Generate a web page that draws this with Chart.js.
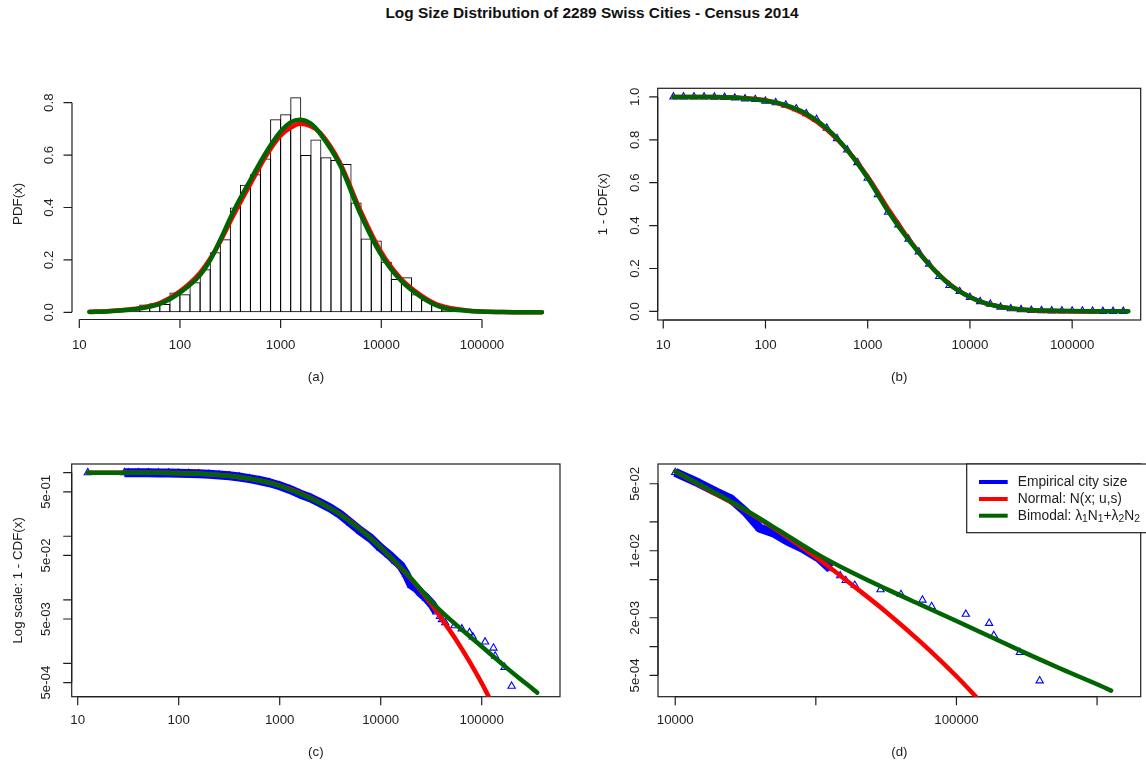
<!DOCTYPE html>
<html>
<head>
<meta charset="utf-8">
<title>Log Size Distribution of 2289 Swiss Cities - Census 2014</title>
<script src="https://cdn.jsdelivr.net/npm/chart.js@4.4.1/dist/chart.umd.min.js"></script>
<style>
  body { margin: 0; background: #fff; }
  #page { position: relative; width: 1146px; height: 766px; overflow: hidden; }
  #page canvas { position: absolute; left: 0; top: 0; }
  #title { position: absolute; left: 292px; top: 4px; width: 600px; text-align: center;
           font: bold 15.4px "Liberation Sans", Arial, sans-serif; color: #111; line-height: 18px; }
</style>
</head>
<body>
<div id="page">
  <div id="title">Log Size Distribution of 2289 Swiss Cities - Census 2014</div>
  <canvas id="pa" width="1146" height="766"></canvas>
  <canvas id="pb" width="1146" height="766"></canvas>
  <canvas id="pc" width="1146" height="766"></canvas>
  <canvas id="pd" width="1146" height="766"></canvas>
</div>
<script>
// (a) histogram of log10(size), bins 0.1 decade wide (bin centres, density)
const histBinCenters = [14.1, 17.8, 22.4, 28.2, 35.5, 44.7, 56.2, 70.8, 89.1, 112, 141, 178, 224, 282, 355,
  447, 562, 708, 891, 1122, 1413, 1778, 2239, 2818, 3548, 4467, 5623, 7079, 8913, 11220, 14125, 17783,
  22387, 28184, 35481, 44668, 56234, 70795, 89125, 112202, 141254, 177828, 223872, 281838, 354813];
const histDensity = [0.004, 0, 0, 0.009, 0.013, 0.030, 0.035, 0.032, 0.076, 0.069, 0.115, 0.164, 0.229, 0.279, 0.400,
  0.487, 0.527, 0.587, 0.737, 0.756, 0.821, 0.600, 0.660, 0.592, 0.581, 0.566, 0.419, 0.282, 0.274, 0.193, 0.127, 0.134,
  0.069, 0.047, 0.028, 0.011, 0.004, 0.004, 0.002, 0.002, 0.004, 0.002, 0, 0, 0.002];

// (a) fitted densities
const pdfPop = [12.6, 20, 31.6, 39.8, 63.1, 100, 158, 200, 251, 339, 501, 724, 1000, 1259, 1549, 1995, 2455,
  3890, 6166, 9772, 15488, 24547, 38019, 70795, 158489, 393550];
const pdfNormal = [0.002, 0.005, 0.011, 0.016, 0.035, 0.08, 0.15, 0.205, 0.27, 0.37, 0.49, 0.6, 0.675, 0.705, 0.72,
  0.71, 0.686, 0.57, 0.39, 0.235, 0.13, 0.066, 0.026, 0.007, 0.001, 0];
const pdfBimodal = [0.001, 0.004, 0.01, 0.015, 0.032, 0.075, 0.142, 0.2, 0.276, 0.384, 0.505, 0.613, 0.69, 0.725, 0.735,
  0.72, 0.683, 0.562, 0.378, 0.225, 0.123, 0.06, 0.022, 0.006, 0.001, 0];

// (b)(c)(d) fitted 1 - CDF
const survPop = [12.6, 31.6, 63.1, 100, 158, 251, 398, 631, 1000, 1585, 2512, 3981, 6310, 10000, 13335, 17783,
  23714, 31623, 42170, 56234, 74989, 100000, 133352, 177828, 237137, 316228, 354813];
const survNormal = [1.0, 0.999, 0.994, 0.984, 0.958, 0.915, 0.848, 0.752, 0.627, 0.478, 0.338, 0.220, 0.128, 0.067,
  0.042, 0.0263, 0.0155, 0.0086, 0.0045, 0.0023, 0.0011, 0.00049, 0.00020, 0.00008];
const survBimodal = [1.0, 0.999, 0.993, 0.982, 0.962, 0.922, 0.853, 0.752, 0.622, 0.467, 0.333, 0.219, 0.126, 0.067,
  0.0427, 0.0266, 0.0159, 0.0094, 0.0060, 0.0040, 0.00272, 0.00185, 0.00125, 0.000845, 0.00058, 0.000404, 0.000347];

// (b) empirical 1 - CDF on a 0.1 decade grid
const gridPop = [12.6, 15.8, 20, 25.1, 31.6, 39.8, 50.1, 63.1, 79.4, 100, 126, 158, 200, 251, 316, 398, 501, 631,
  794, 1000, 1259, 1585, 1995, 2512, 3162, 3981, 5012, 6310, 7943, 10000, 12589, 15849, 19953, 25119, 31623,
  39811, 50119, 63096, 79433, 100000, 125893, 158489, 199526, 251189, 316228];
const gridSurv = [1, 1, 1, 1, 0.999, 0.998, 0.995, 0.991, 0.988, 0.980, 0.973, 0.962, 0.945, 0.922, 0.895, 0.855,
  0.806, 0.753, 0.694, 0.621, 0.545, 0.463, 0.403, 0.337, 0.278, 0.220, 0.163, 0.121, 0.093, 0.066, 0.046, 0.034,
  0.020, 0.013, 0.0087, 0.0052, 0.0039, 0.0030, 0.0024, 0.0022, 0.0022, 0.0013, 0.0004, 0.0004, 0.0004];

// (c)(d) empirical 1 - CDF of the cities (dense band, then the largest cities)
const cityPop = [12.6, 29, 31.6, 39.8, 50.1, 63.1, 79.4, 100, 126, 158, 200, 251, 316, 398, 501, 631, 794, 1000,
  1259, 1585, 1995, 2512, 3162, 3981, 5012, 6310, 7943, 10000, 12100, 14000, 15800, 17800, 20000, 22500, 25100,
  28200, 32200, 35600, 38600, 40400, 43500, 53700, 63500, 75700, 81600, 108000, 130700, 135800, 168100, 197700];
const citySurv = [1.0, 1.0, 0.999, 0.998, 0.995, 0.991, 0.988, 0.980, 0.973, 0.962, 0.945, 0.922, 0.895, 0.855,
  0.806, 0.753, 0.694, 0.621, 0.545, 0.463, 0.403, 0.337, 0.278, 0.220, 0.163, 0.121, 0.093, 0.0656, 0.051, 0.041,
  0.0346, 0.0254, 0.0172, 0.0152, 0.0126, 0.0107, 0.0085, 0.0065, 0.0055, 0.0049, 0.00437, 0.00393, 0.0035,
  0.00306, 0.00262, 0.00218, 0.00175, 0.00131, 0.00087, 0.00044];
const bandFirst = 1, bandLast = 37;

// tick values and labels
const decadeTicks = [10, 100, 1000, 10000, 100000];
const decadeLabels = ['10', '100', '1000', '10000', '100000'];
const pdfTicks = [0, 0.2, 0.4, 0.6, 0.8];
const pdfLabels = ['0.0', '0.2', '0.4', '0.6', '0.8'];
const cdfTicks = [0, 0.2, 0.4, 0.6, 0.8, 1.0];
const cdfLabels = ['0.0', '0.2', '0.4', '0.6', '0.8', '1.0'];
const logTicksC = [1, 0.5, 0.1, 0.05, 0.01, 0.005, 0.001, 0.0005];
const logLabelsC = ['', '5e-01', '', '5e-02', '', '5e-03', '', '5e-04'];
const tailTicksX = [10000, 31623, 100000, 316228];
const tailLabelsX = ['10000', '', '100000', ''];
const tailTicksY = [0.05, 0.02, 0.01, 0.005, 0.002, 0.001, 0.0005];
const tailLabelsY = ['5e-02', '', '1e-02', '', '2e-03', '', '5e-04'];

const BLUE = '#0000ff', RED = '#ff0000', GREEN = '#006400', INK = '#1e1e1e';
const FONT = '13.3px "Liberation Sans", Arial, sans-serif';
const LEGEND_FONT = '13.8px "Liberation Sans", Arial, sans-serif';

// where each R plot region sits on the page
const panels = {
  pa: { left: 72, right: 560, top: 88.3, bottom: 319.5, xMin: 8.463, xMax: 595662, yMin: -0.0275, yMax: 0.855,
        yLog: false, box: false, xTicks: decadeTicks, xLabels: decadeLabels, yTicks: pdfTicks, yLabels: pdfLabels,
        xLabelY: 345.7, captionY: 377.7, yLabelX: 49.3, yTitleX: 18, yTitle: 'PDF(x)', caption: '(a)' },
  pb: { left: 657.7, right: 1145.3, top: 88.3, bottom: 320, xMin: 8.826, xMax: 468300, yMin: -0.04, yMax: 1.04,
        yLog: false, box: true, xTicks: decadeTicks, xLabels: decadeLabels, yTicks: cdfTicks, yLabels: cdfLabels,
        xLabelY: 345.7, captionY: 377.7, yLabelX: 635, yTitleX: 603.3, yTitle: '1 - CDF(x)', caption: '(b)' },
  pc: { left: 71.7, right: 560, top: 464, bottom: 696.7, xMin: 8.722, xMax: 595662, yMin: 3.08e-4, yMax: 1.368,
        yLog: true, box: true, xTicks: decadeTicks, xLabels: decadeLabels, yTicks: logTicksC, yLabels: logLabelsC,
        xLabelY: 720.7, captionY: 752.3, yLabelX: 46.7, yTitleX: 18, yTitle: 'Log scale: 1 - CDF(x)', caption: '(c)',
        bandWidth: 9 },
  pd: { left: 658, right: 1145.3, top: 464, bottom: 696.7, xMin: 8685, xMax: 452050, yMin: 3.46e-4, yMax: 0.0804,
        yLog: true, box: true, xTicks: tailTicksX, xLabels: tailLabelsX, yTicks: tailTicksY, yLabels: tailLabelsY,
        xLabelY: 720.7, captionY: 752.3, yLabelX: 635.4, yTitleX: 0, yTitle: '', caption: '(d)', legend: true,
        bandWidth: 9 }
};

function vtext(ctx, t, x, y) {
  ctx.save();
  ctx.translate(x, y);
  ctx.rotate(-Math.PI / 2);
  ctx.fillText(t, 0, 0);
  ctx.restore();
}

// text with subscripts: parts = [[text, isSub], ...]
function richText(ctx, parts, x, y) {
  parts.forEach(p => {
    ctx.font = p[1] ? '10.3px "Liberation Sans", Arial, sans-serif' : LEGEND_FONT;
    ctx.fillText(p[0], x, p[1] ? y + 3.6 : y);
    x += ctx.measureText(p[0]).width;
  });
}

// R style axes: lines from first to last tick, outward ticks, rotated y labels
const rAxes = {
  id: 'rAxes',
  beforeDatasetsDraw(chart) {
    const s = panels[chart.canvas.id];
    const ctx = chart.ctx;
    const a = chart.chartArea;
    const xs = chart.scales.x;
    const ys = chart.scales.y;
    ctx.save();
    ctx.strokeStyle = INK;
    ctx.fillStyle = INK;
    ctx.lineWidth = 1.2;
    ctx.font = FONT;
    if (s.box) ctx.strokeRect(a.left, a.top, a.right - a.left, a.bottom - a.top);

    const xp = s.xTicks.map(v => xs.getPixelForValue(v));
    const yp = s.yTicks.map(v => ys.getPixelForValue(v));
    ctx.beginPath();
    ctx.moveTo(xp[0], a.bottom);
    ctx.lineTo(xp[xp.length - 1], a.bottom);
    xp.forEach(p => { ctx.moveTo(p, a.bottom); ctx.lineTo(p, a.bottom + 8.5); });
    ctx.moveTo(a.left, yp[0]);
    ctx.lineTo(a.left, yp[yp.length - 1]);
    yp.forEach(p => { ctx.moveTo(a.left, p); ctx.lineTo(a.left - 8.5, p); });
    ctx.stroke();

    ctx.textAlign = 'center';
    ctx.textBaseline = 'middle';
    xp.forEach((p, i) => ctx.fillText(s.xLabels[i], p, s.xLabelY));
    yp.forEach((p, i) => vtext(ctx, s.yLabels[i], s.yLabelX, p));
    if (s.yTitle) vtext(ctx, s.yTitle, s.yTitleX, (a.top + a.bottom) / 2);
    ctx.fillText(s.caption, (a.left + a.right) / 2, s.captionY);
    ctx.restore();
  },
  afterDraw(chart) {
    const s = panels[chart.canvas.id];
    if (!s.legend) return;
    const ctx = chart.ctx;
    ctx.save();
    ctx.fillStyle = '#fff';
    ctx.strokeStyle = INK;
    ctx.lineWidth = 1.2;
    ctx.fillRect(966.7, 464, 200, 68.7);
    ctx.strokeRect(966.7, 464, 200, 68.7);
    const rows = [
      [BLUE, [['Empirical city size', false]]],
      [RED, [['Normal: N(x; u,s)', false]]],
      [GREEN, [['Bimodal: \u03bb', false], ['1', true], ['N', false], ['1', true], ['+\u03bb', false], ['2', true], ['N', false], ['2', true]]]
    ];
    const rowY = [482, 499, 515.7];
    ctx.textAlign = 'left';
    ctx.textBaseline = 'middle';
    rows.forEach((r, i) => {
      ctx.strokeStyle = r[0];
      ctx.lineWidth = 4;
      ctx.beginPath();
      ctx.moveTo(979, rowY[i]);
      ctx.lineTo(1007.7, rowY[i]);
      ctx.stroke();
      ctx.fillStyle = INK;
      richText(ctx, r[1], 1017.7, rowY[i]);
    });
    ctx.restore();
  }
};

function xy(xs, ys) { return ys.map((y, i) => ({ x: xs[i], y: y })); }

function curve(data, color, order) {
  return { type: 'line', data: data, borderColor: color, borderWidth: 4.5, pointRadius: 0, fill: false,
           cubicInterpolationMode: 'monotone', borderCapStyle: 'round', borderJoinStyle: 'round', order: order };
}
function marks(data) {
  return { type: 'line', data: data, showLine: false, pointStyle: 'triangle', pointRadius: 4.2,
           pointBorderColor: BLUE, pointBackgroundColor: 'rgba(0,0,0,0)', pointBorderWidth: 1.1, order: 3 };
}
function band(data, width) {
  return { type: 'line', data: data, borderColor: BLUE, borderWidth: width, pointRadius: 0, fill: false,
           borderCapStyle: 'butt', borderJoinStyle: 'round', order: 4 };
}

function panel(id, datasets) {
  const g = panels[id];
  return new Chart(document.getElementById(id), {
    type: 'line',
    data: { datasets: datasets },
    options: {
      responsive: false,
      animation: false,
      events: [],
      layout: { padding: { left: g.left, top: g.top, right: 1146 - g.right, bottom: 766 - g.bottom } },
      plugins: { legend: { display: false }, tooltip: { enabled: false } },
      scales: {
        x: { type: 'logarithmic', display: false, min: g.xMin, max: g.xMax,
             afterBuildTicks: sc => { sc.ticks = []; } },
        y: { type: g.yLog ? 'logarithmic' : 'linear', display: false, min: g.yMin, max: g.yMax,
             afterBuildTicks: sc => { sc.ticks = []; } }
      }
    },
    plugins: [rAxes]
  });
}

const bandPts = xy(cityPop, citySurv).slice(bandFirst, bandLast + 1);
const tail = p => p.x >= 10000;

panel('pa', [
  { type: 'bar', data: xy(histBinCenters, histDensity), backgroundColor: 'rgba(0,0,0,0)', borderColor: '#000',
    borderWidth: 1, borderSkipped: false, barPercentage: 1.1, categoryPercentage: 1, order: 5 },
  curve(xy(pdfPop, pdfNormal), RED, 2),
  curve(xy(pdfPop, pdfBimodal), GREEN, 1)
]);

panel('pb', [
  marks(xy(gridPop, gridSurv)),
  curve(xy(survPop, survNormal), RED, 2),
  curve(xy(survPop, survBimodal), GREEN, 1)
]);

panel('pc', [
  band(bandPts, panels.pc.bandWidth),
  marks(xy(cityPop, citySurv)),
  curve(xy(survPop, survNormal), RED, 2),
  curve(xy(survPop, survBimodal), GREEN, 1)
]);

panel('pd', [
  band(bandPts.filter(tail), panels.pd.bandWidth),
  marks(xy(cityPop, citySurv).filter(tail)),
  curve(xy(survPop, survNormal).filter(tail), RED, 2),
  curve(xy(survPop, survBimodal).filter(tail), GREEN, 1)
]);
</script>
</body>
</html>
